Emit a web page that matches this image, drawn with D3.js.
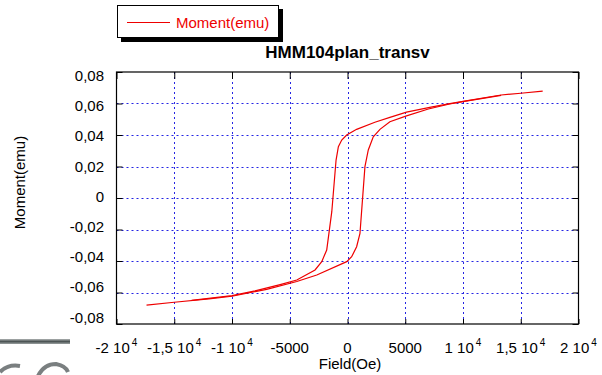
<!DOCTYPE html>
<html><head><meta charset="utf-8">
<script src="https://cdn.jsdelivr.net/npm/d3@7"></script>
<style>body{margin:0;background:#fff}svg{display:block;font-family:"Liberation Sans",Arial,sans-serif}</style>
</head><body>
<svg id="c" width="602" height="375"></svg>
<script>
// ---- data ----
const descField = [16900,15000,13300,10000,8850,7120,5110,3670,2370,790,-70,-500,-790,-990,-1360,-1800,-2230,-2810,-4390,-5830,-8000,-10000,-13500];
const descMoment = [0.0679,0.0665,0.0654,0.0614,0.0599,0.0575,0.0545,0.0512,0.0481,0.0436,0.0400,0.0368,0.0326,0.0241,-0.0087,-0.0330,-0.0404,-0.0457,-0.0521,-0.0550,-0.0590,-0.0620,-0.0650];
const ascField = [-17400,-15000,-12000,-10000,-7000,-4390,-2660,-70,360,790,1080,1510,1800,2230,2810,3670,5110,7000,8850,10000,13300];
const ascMoment = [-0.0680,-0.0662,-0.0640,-0.0624,-0.0580,-0.0530,-0.0489,-0.0404,-0.0373,-0.0309,-0.0224,0.0199,0.0305,0.0389,0.0436,0.0484,0.0521,0.0565,0.0597,0.0612,0.0652];
const xTicks = [-20000,-15000,-10000,-5000,0,5000,10000,15000,20000];
const xTickMain = ["-2 10","-1,5 10","-1 10","-5000","0","5000","1 10","1,5 10","2 10"];
const xTickExp = ["4","4","4","","","","4","4","4"];
const yTicks = [0.08,0.06,0.04,0.02,0,-0.02,-0.04,-0.06,-0.08];
const yTickLabels = ["0,08","0,06","0,04","0,02","0","-0,02","-0,04","-0,06","-0,08"];
const title = "HMM104plan_transv";
const seriesName = "Moment(emu)";
const xTitle = "Field(Oe)";
const yTitle = "Moment(emu)";

const svg = d3.select("#c");
const L=116.5, R=578.5, T=72, B=324;
const x = d3.scaleLinear().domain([-20000,20000]).range([L,R]);
const y = d3.scaleLinear().domain([-0.08,0.08]).range([B,T]);
const yLab = d3.scaleLinear().domain([-0.08,0.08]).range([322.5,81]);

// decorations bottom-left
const g0 = svg.append("defs").append("linearGradient").attr("id","gb").attr("x1",0).attr("y1",0).attr("x2",0).attr("y2",1);
g0.append("stop").attr("offset","0%").attr("stop-color","#b0b4b4");
g0.append("stop").attr("offset","50%").attr("stop-color","#4d5555");
g0.append("stop").attr("offset","100%").attr("stop-color","#9aa0a0");
svg.append("rect").attr("x",0).attr("y",339).attr("width",70).attr("height",5).attr("fill","url(#gb)");
svg.append("path").attr("d","M0,372 Q8,364 20,366 M38,376 Q44,364 56,364 Q66,366 68,372").attr("fill","none").attr("stroke","#7a7f80").attr("stroke-width",4);

// grid
const grid = svg.append("g").attr("stroke","#0000e0").attr("stroke-width",1).attr("stroke-dasharray","2,3").attr("opacity",0.85);
grid.selectAll("line.v").data(xTicks.slice(1,-1)).join("line")
  .attr("x1",d=>Math.round(x(d))+0.5).attr("x2",d=>Math.round(x(d))+0.5).attr("y1",T).attr("y2",B);
grid.selectAll("line.h").data(yTicks.slice(1,-1)).join("line").attr("class","h")
  .attr("y1",d=>Math.round(y(d))+0.5).attr("y2",d=>Math.round(y(d))+0.5).attr("x1",L).attr("x2",R);

// axes ticks (inward)
const axB = svg.append("g").attr("transform",`translate(0,${B})`).call(d3.axisTop(x).tickValues(xTicks).tickSize(5).tickFormat(""));
const axT = svg.append("g").attr("transform",`translate(0,${T})`).call(d3.axisBottom(x).tickValues(xTicks).tickSize(7).tickFormat(""));
const axL = svg.append("g").attr("transform",`translate(${L},0)`).call(d3.axisRight(y).tickValues(yTicks).tickSize(6).tickFormat(""));
const axR = svg.append("g").attr("transform",`translate(${R},0)`).call(d3.axisLeft(y).tickValues(yTicks).tickSize(6).tickFormat(""));
[axB,axT,axL,axR].forEach(a=>{a.select(".domain").remove();a.selectAll("line").attr("stroke","#000");});

// frame
svg.append("rect").attr("x",L).attr("y",T).attr("width",R-L).attr("height",B-T).attr("fill","none").attr("stroke","#000").attr("stroke-width",1.2);

// curves
const line = d3.line().x(d=>x(d[0])).y(d=>y(d[1]));
svg.append("path").datum(descField.map((f,i)=>[f,descMoment[i]])).attr("d",line).attr("fill","none").attr("stroke","#ee0000").attr("stroke-width",1.2);
svg.append("path").datum(ascField.map((f,i)=>[f,ascMoment[i]])).attr("d",line).attr("fill","none").attr("stroke","#ee0000").attr("stroke-width",1.2);

// x tick labels
const xl = svg.append("g").attr("font-size",15).attr("fill","#000");
xTicks.forEach((v,i)=>{
  const t = xl.append("text").attr("x",x(v)).attr("y",352.5).attr("text-anchor","middle");
  t.append("tspan").text(xTickMain[i]);
  if(xTickExp[i]) t.append("tspan").attr("font-size",10).attr("dx",2).attr("dy",-7).text(xTickExp[i]);
});
// y tick labels
svg.append("g").attr("font-size",15).selectAll("text").data(yTicks).join("text")
  .attr("x",104).attr("y",d=>yLab(d)).attr("text-anchor","end").text((d,i)=>yTickLabels[i]);

// axis titles
svg.append("text").attr("x",350).attr("y",369).attr("text-anchor","middle").attr("font-size",15).text(xTitle);
svg.append("text").attr("transform","translate(25,182.5) rotate(-90)").attr("text-anchor","middle").attr("font-size",15).text(yTitle);

// title
svg.append("text").attr("x",347.5).attr("y",58.3).attr("text-anchor","middle").attr("font-size",17).attr("font-weight","bold").text(title);

// legend
svg.append("rect").attr("x",121).attr("y",9).attr("width",162).attr("height",33).attr("fill","#000");
svg.append("rect").attr("x",117.5).attr("y",5.5).attr("width",161).attr("height",32).attr("fill","#fff").attr("stroke","#000").attr("stroke-width",1);
svg.append("line").attr("x1",127).attr("x2",170).attr("y1",22.5).attr("y2",22.5).attr("stroke","#ee0000").attr("stroke-width",1.2);
svg.append("text").attr("x",176).attr("y",28.3).attr("font-size",15).attr("fill","#ee0000").text(seriesName);
</script>
</body></html>
